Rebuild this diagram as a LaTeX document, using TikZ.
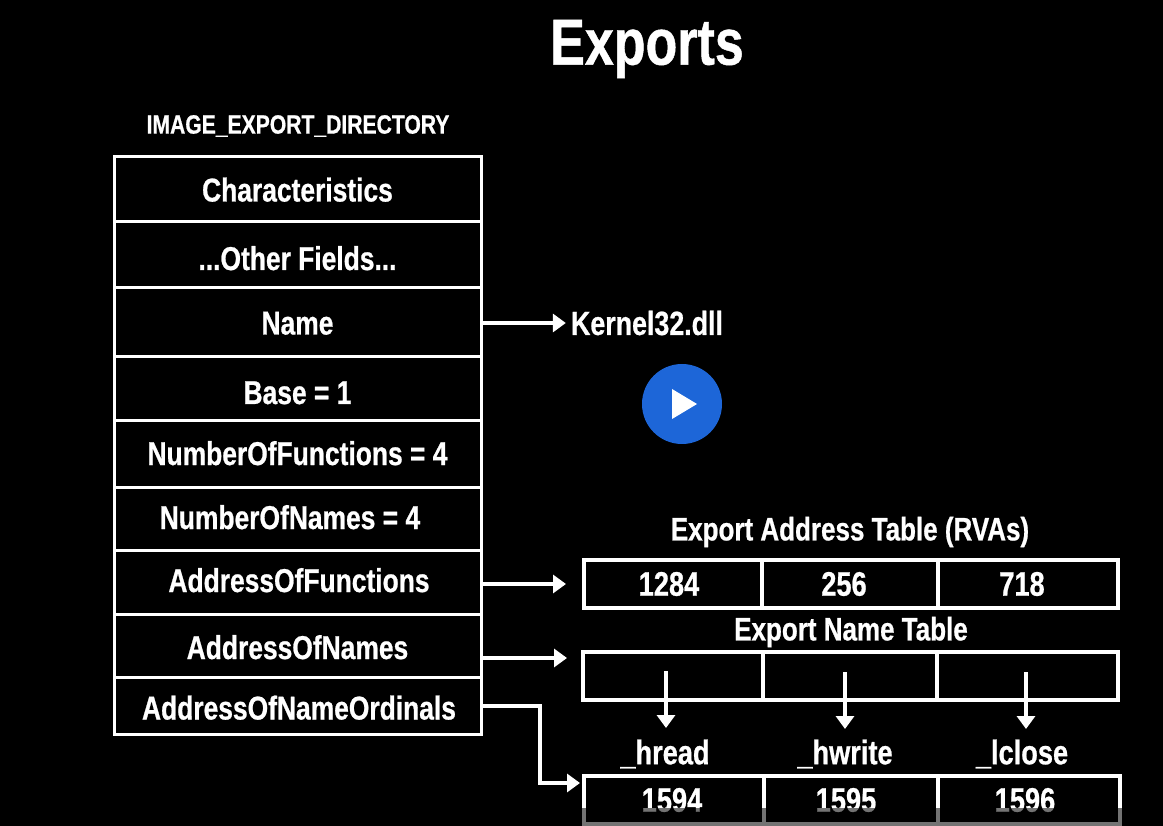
\documentclass[tikz,border=0pt]{standalone}
\usepackage{fontspec}
\setmainfont[FakeStretch=0.8,BoldFeatures={FakeBold=0.7}]{Liberation Sans}
\usetikzlibrary{arrows.meta}
\definecolor{playblue}{HTML}{1D66D8}
\tikzset{
  fieldbox/.style={draw=white,line width=3pt,inner sep=0pt,outer sep=0pt,minimum width=367pt,text height=30pt,text depth=6pt,text=white,font=\fontsize{33}{34}\selectfont\bfseries},
  cellbox/.style={draw=white,line width=4pt,inner sep=0pt,outer sep=0pt,minimum height=48pt,text=white,font=\fontsize{34}{34}\selectfont\bfseries},
  caption/.style={text=white,inner sep=0pt,font=\fontsize{32.5}{33}\selectfont\bfseries},
  ptr/.style={draw=white,line width=4pt,-{Triangle[width=18pt,length=13pt]}},
}
\begin{document}
\begin{tikzpicture}[x=1pt,y=-1pt]
    \fill[black] (0,0) rectangle (1163,826);
    \useasboundingbox (0,0) rectangle (1163,826);
    \node[text=white,inner sep=0pt,font=\fontsize{65}{65}\selectfont\bfseries] (title) at (647,49) {Exports};
    \node[caption,font=\fontsize{26.4}{27}\selectfont\bfseries] (dirhead) at (298,126) {IMAGE\_EXPORT\_DIRECTORY};
    % directory rows
    \node[fieldbox,minimum height=65pt] (chars) at (297.5,189.5) {Characteristics};
    \node[fieldbox,minimum height=66pt] (other) at (297.5,255) {\raisebox{-3pt}{...Other Fields...}};
    \node[fieldbox,minimum height=69pt] (name) at (297.5,322.5) {Name};
    \node[fieldbox,minimum height=64pt] (base) at (297.5,389) {\raisebox{-3pt}{Base = 1}};
    \node[fieldbox,minimum height=66pt] (numfunc) at (297.5,454) {\raisebox{1pt}{NumberOfFunctions = 4}};
    \node[fieldbox,minimum height=63pt] (numnames) at (297.5,518.5) {\hspace*{-15pt}\raisebox{1.5pt}{NumberOfNames = 4}};
    \node[fieldbox,minimum height=64pt] (addrfunc) at (297.5,582) {\hspace*{3pt}\raisebox{2pt}{AddressOfFunctions}};
    \node[fieldbox,minimum height=63pt] (addrnames) at (297.5,645.5) {\raisebox{-1.5pt}{AddressOfNames}};
    \node[fieldbox,minimum height=57pt] (addrord) at (297.5,705.5) {\hspace*{3pt}\raisebox{-2pt}{AddressOfNameOrdinals}};
    \node[text=white,inner sep=0pt,font=\fontsize{33.5}{34}\selectfont\bfseries] (dll) at (647,323) {Kernel32.dll};
    \node[circle,fill=playblue,minimum size=80pt,inner sep=0pt] (play) at (682,404) {};
    \fill[white] ([shift={(-10,-15)}]play.center) -- ([shift={(15,0)}]play.center) -- ([shift={(-10,15)}]play.center) -- cycle;
    % export address table
    \node[caption] (eathead) at (850,532) {Export Address Table (RVAs)};
    \node[cellbox,minimum width=178pt] (eat1) at (673,584) {\hspace*{-8pt}1284};
    \node[cellbox,minimum width=176pt] (eat2) at (850,584) {\hspace*{-12pt}256};
    \node[cellbox,minimum width=180pt] (eat3) at (1028,584) {\hspace*{-12pt}718};
    % export name table
    \node[caption] (enthead) at (851,632) {Export Name Table};
    \node[cellbox,minimum width=180pt] (ent1) at (673,676) {};
    \node[cellbox,minimum width=174pt] (ent2) at (850,676) {};
    \node[cellbox,minimum width=181pt] (ent3) at (1027.5,676) {};
    \node[caption,font=\fontsize{34}{34}\selectfont\bfseries] (hread) at (665,754) {\_hread};
    \node[caption,font=\fontsize{34}{34}\selectfont\bfseries] (hwrite) at (845,754) {\_hwrite};
    \node[caption,font=\fontsize{34}{34}\selectfont\bfseries] (lclose) at (1022,754) {\_lclose};
    \coordinate (p1) at (666,671);
    \coordinate (p2) at (845,672);
    \coordinate (p3) at (1026,672);
    \coordinate (q1) at (666,728);
    \coordinate (q2) at (845,729);
    \coordinate (q3) at (1026,729);
    % ordinal table
    \node[cellbox,minimum width=180pt] (ord1) at (674,800) {\hspace*{-4pt}1594};
    \node[cellbox,minimum width=174pt] (ord2) at (851,800) {\hspace*{-10pt}1595};
    \node[cellbox,minimum width=182pt] (ord3) at (1029,800) {\hspace*{-8pt}1596};
    % pointers
    \draw[ptr,shorten >=5pt] (name.east |- dll) -- (dll.west);
    \draw[ptr,shorten >=18pt] (addrfunc.east |- eat1) -- (eat1.west);
    \draw[ptr,shorten >=16pt] (addrnames.east |- 0,658) -- (ent1.west |- 0,658);
    \draw[ptr,shorten >=4pt] (addrord.east) -- (540,705.5) -- (540,783) -- (ord1.west |- 0,783);
    \draw[ptr] (p1) -- (q1);
    \draw[ptr] (p2) -- (q2);
    \draw[ptr] (p3) -- (q3);
    % fade at the lower edge
    \fill[black,opacity=0.55] (0,808) rectangle (1163,826);
\end{tikzpicture}
\end{document}
